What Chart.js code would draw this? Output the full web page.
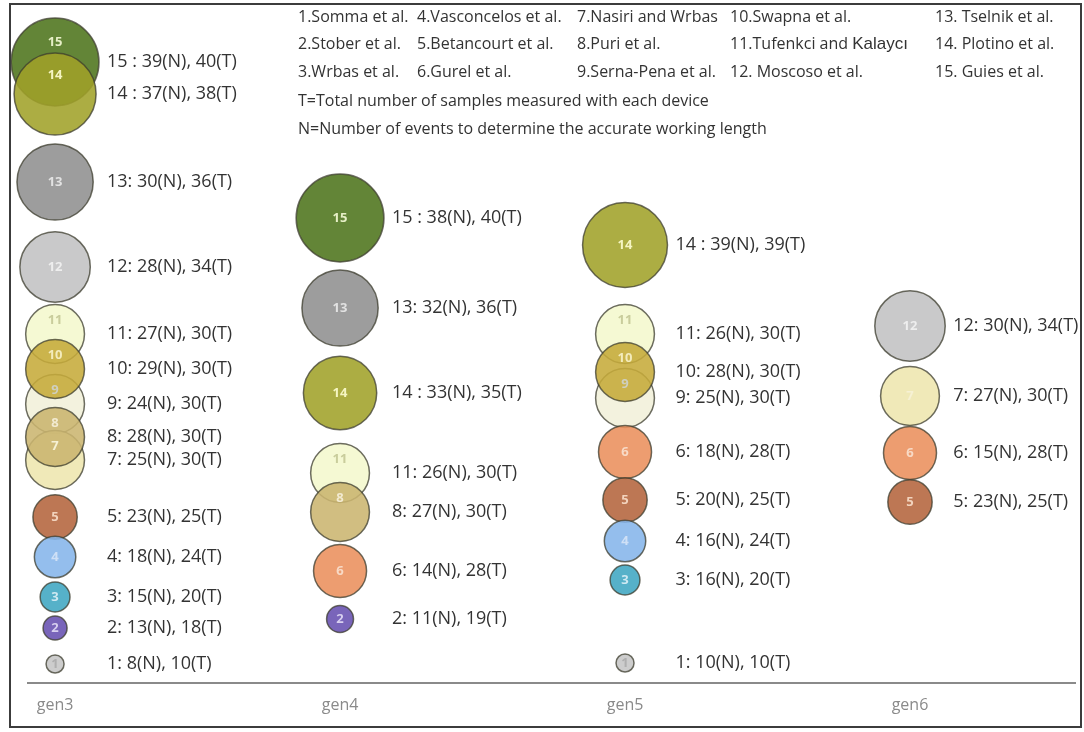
<!DOCTYPE html>
<html>
<head>
<meta charset="utf-8">
<script src="https://cdn.jsdelivr.net/npm/chart.js@4"></script>
<style>
  html, body { margin: 0; padding: 0; background: #fff; }
  #chart { display: block; }
</style>
</head>
<body>
<canvas id="chart" width="1084" height="732"></canvas>
<script>
// columns on the x axis
const genLabels = ['gen3', 'gen4', 'gen5', 'gen6'];

// per column: device id, N (events), T (samples), vertical level in the stack
const gen3Ids = [15, 14, 13, 12, 11, 10, 9, 8, 7, 5, 4, 3, 2, 1];
const gen3N = [39, 37, 30, 28, 27, 29, 24, 28, 25, 23, 18, 15, 13, 8];
const gen3T = [40, 38, 36, 34, 30, 30, 30, 30, 30, 25, 24, 20, 18, 10];
const gen3Level = [62.1, 58.9, 50.1, 41.6, 34.9, 31.4, 27.9, 24.6, 22.3, 16.6, 12.6, 8.6, 5.5, 1.9];

const gen4Ids = [15, 13, 14, 11, 8, 6, 2];
const gen4N = [38, 32, 33, 26, 27, 14, 11];
const gen4T = [40, 36, 35, 30, 30, 28, 19];
const gen4Level = [46.5, 37.5, 29.0, 21.0, 17.1, 11.2, 6.4];

const gen5Ids = [14, 11, 10, 9, 6, 5, 4, 3, 1];
const gen5N = [39, 26, 28, 25, 18, 20, 16, 16, 10];
const gen5T = [39, 30, 30, 30, 28, 25, 24, 20, 10];
const gen5Level = [43.8, 34.9, 31.1, 28.5, 23.1, 18.3, 14.2, 10.3, 2.0];

const gen6Ids = [12, 7, 6, 5];
const gen6N = [30, 27, 15, 23];
const gen6T = [34, 30, 28, 25];
const gen6Level = [35.7, 28.7, 23.0, 18.1];

const authors = [
  '1.Somma et al.', '2.Stober et al.', '3.Wrbas et al.',
  '4.Vasconcelos et al.', '5.Betancourt et al.', '6.Gurel et al.',
  '7.Nasiri and Wrbas', '8.Puri et al.', '9.Serna-Pena et al.',
  '10.Swapna et al.', '11.Tufenkci and Kalaycı', '12. Moscoso et al.',
  '13. Tselnik et al.', '14. Plotino et al.', '15. Guies et al.'
];
const notes = [
  'T=Total number of samples measured with each device',
  'N=Number of events to determine the accurate working length'
];

// colours per device; pale ones sit underneath their neighbours
const deviceStyle = {
  1: { fill: '#c6c6c6', text: '#b0b0b0', pale: true },
  2: { fill: '#6650b0', text: '#d8d0f0' },
  3: { fill: '#3fa6c2', text: '#cfe9f2' },
  4: { fill: '#85b5ea', text: '#cfe0f6' },
  5: { fill: '#b4643c', text: '#f2d3bd' },
  6: { fill: '#eb8f5c', text: '#f8dac6' },
  7: { fill: '#eee6ae', text: '#f6f1d4', pale: true },
  8: { fill: '#cbb56f', text: '#f2ead0' },
  9: { fill: '#f1f0da', text: '#cfcfbf', pale: true },
  10: { fill: '#c6ab3a', text: '#f3ebbb' },
  11: { fill: '#f4f8cd', text: '#c9cd9c', pale: true },
  12: { fill: '#c1c1c3', text: '#eeeeee' },
  13: { fill: '#909090', text: '#e2e2e2' },
  14: { fill: '#a0a229', text: '#f5f5c2' },
  15: { fill: '#4d741b', text: '#e6efc6' }
};

function radiusFor(t) {
  return Math.max(9, 12 + 1.45 * (t - 18));
}

function withAlpha(hex, a) {
  const v = parseInt(hex.slice(1), 16);
  return `rgba(${v >> 16}, ${(v >> 8) & 255}, ${v & 255}, ${a})`;
}

function buildPoints(col, ids, ns, ts, levels) {
  return ids
    .map((id, i) => ({ x: col, y: levels[i], r: radiusFor(ts[i]), id: id, n: ns[i], t: ts[i] }))
    .sort((a, b) => (deviceStyle[a.id].pale ? 0 : 1) - (deviceStyle[b.id].pale ? 0 : 1));
}

const columns = [
  buildPoints(0, gen3Ids, gen3N, gen3T, gen3Level),
  buildPoints(1, gen4Ids, gen4N, gen4T, gen4Level),
  buildPoints(2, gen5Ids, gen5N, gen5T, gen5Level),
  buildPoints(3, gen6Ids, gen6N, gen6T, gen6Level)
];

const bubbleText = {
  id: 'bubbleText',
  afterDatasetsDraw(chart) {
    const ctx = chart.ctx;
    ctx.save();
    chart.data.datasets.forEach((ds, di) => {
      const els = chart.getDatasetMeta(di).data;
      const maxR = Math.max(...els.map(e => e.options.radius));
      els.forEach((el, i) => {
        const p = ds.data[i];
        const r = el.options.radius;
        const hit = els.some((o, j) => j !== i && Math.abs(o.y - el.y) < r + o.options.radius - 4);
        const ly = hit ? el.y - 0.45 * r : el.y;
        ctx.textBaseline = 'middle';
        ctx.textAlign = 'center';
        ctx.font = 'bold 13px "Open Sans"';
        ctx.fillStyle = deviceStyle[p.id].text;
        ctx.fillText(String(p.id), el.x, ly);

        ctx.textAlign = 'left';
        ctx.font = '18px "Open Sans"';
        ctx.fillStyle = '#333';
        const sep = p.id >= 14 ? ' : ' : ': ';
        ctx.fillText(`${p.id}${sep}${p.n}(N), ${p.t}(T)`, el.x + maxR + 8, el.y);
      });
    });
    ctx.restore();
  }
};

const legendText = {
  id: 'legendText',
  afterDraw(chart) {
    const ctx = chart.ctx;
    const colX = [298, 417, 577, 730, 935];
    const rowY = [17, 44, 72];
    ctx.save();
    ctx.textBaseline = 'middle';
    ctx.textAlign = 'left';
    ctx.fillStyle = '#333';
    authors.forEach((name, i) => {
      const x = colX[Math.floor(i / 3)];
      const y = rowY[i % 3];
      ctx.font = '16px "Open Sans"';
      if (name.endsWith('Kalaycı')) {
        const head = name.replace('Kalaycı', '');
        ctx.fillText(head, x, y);
        const w = ctx.measureText(head).width;
        ctx.font = '17px "Liberation Sans"';
        ctx.fillText('Kalaycı', x + w, y);
      } else {
        ctx.fillText(name, x, y);
      }
    });
    ctx.font = '16px "Open Sans"';
    ctx.fillText(notes[0], 298, 101);
    ctx.fillText(notes[1], 298, 129);

    // outer frame
    ctx.strokeStyle = '#3c3c3c';
    ctx.lineWidth = 2;
    ctx.strokeRect(10, 4, 1071, 723);
    ctx.restore();
  }
};

new Chart(document.getElementById('chart'), {
  type: 'bubble',
  data: {
    datasets: columns.map((pts, i) => ({
      label: genLabels[i],
      data: pts,
      backgroundColor: (c) => withAlpha(deviceStyle[c.raw.id].fill, 0.88),
      borderColor: 'rgba(60, 60, 45, 0.75)',
      borderWidth: 1.5,
      hoverRadius: 0,
      clip: false
    }))
  },
  options: {
    responsive: false,
    animation: false,
    events: [],
    layout: { autoPadding: false, padding: { top: 3, left: 28, right: 9, bottom: 0 } },
    plugins: { legend: { display: false }, tooltip: { enabled: false } },
    scales: {
      x: {
        type: 'linear',
        min: -0.095,
        max: 3.579,
        grid: { display: false, drawTicks: false },
        border: { display: true, color: '#8a8a8a', width: 2 },
        afterBuildTicks: (scale) => { scale.ticks = genLabels.map((_, i) => ({ value: i })); },
        afterFit: (scale) => { scale.height = 49; },
        ticks: {
          autoSkip: false,
          maxRotation: 0,
          padding: 13,
          color: '#8a8a8a',
          font: { family: 'Open Sans', size: 16 },
          callback: (v) => genLabels[v]
        }
      },
      y: { display: false, min: 0, max: 68 }
    }
  },
  plugins: [bubbleText, legendText]
});
</script>
</body>
</html>
